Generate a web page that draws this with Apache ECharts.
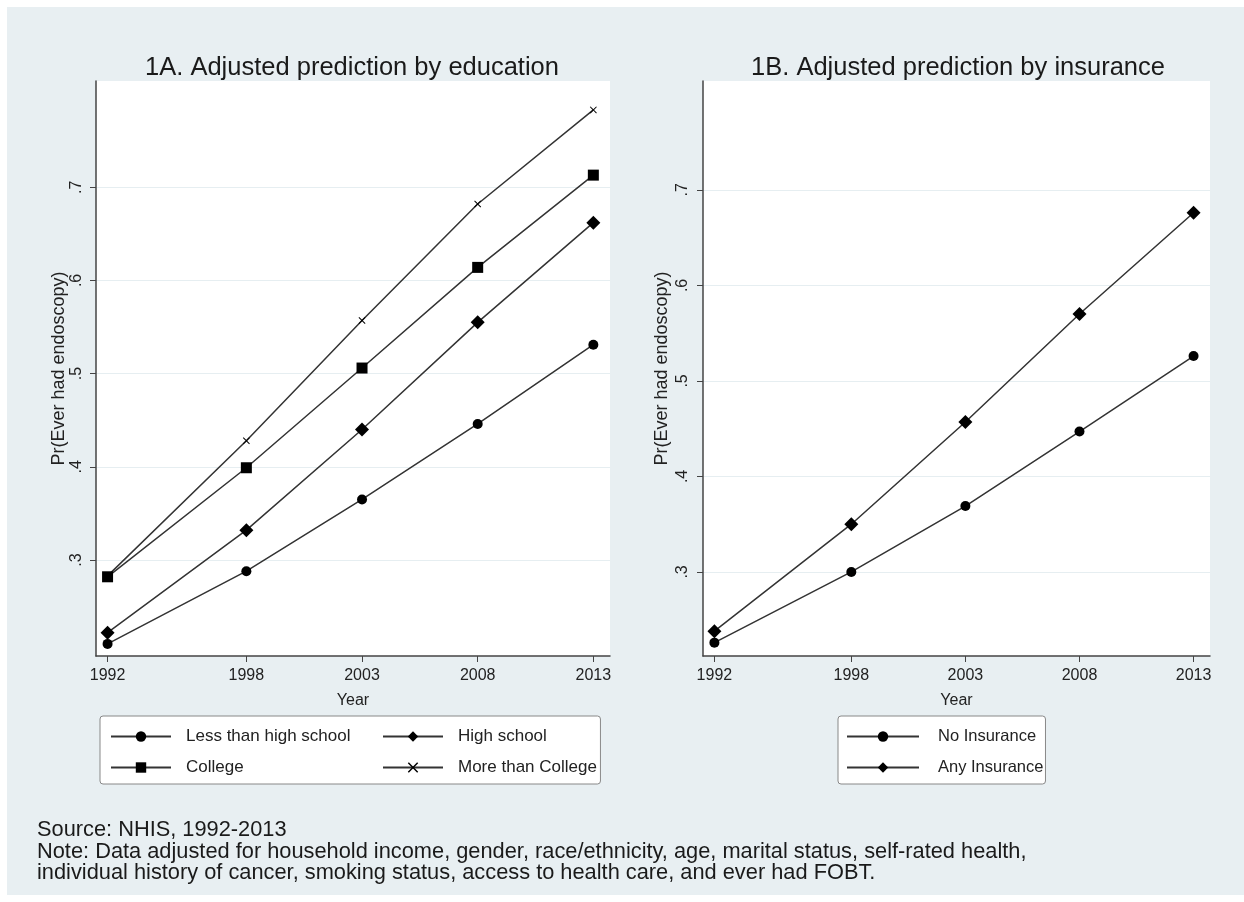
<!DOCTYPE html>
<html>
<head>
<meta charset="utf-8">
<script src="https://cdn.jsdelivr.net/npm/echarts@6/dist/echarts.min.js"></script>
<style>
  body { margin: 0; background: #fff; }
  #main { width: 1244px; height: 902px; }
</style>
</head>
<body>
<div id="main"></div>
<script>
// data
var years = [1992, 1998, 2003, 2008, 2013];
var yTicks = [0.3, 0.4, 0.5, 0.6, 0.7];

var lessThanHS      = [0.210, 0.288, 0.365, 0.446, 0.531];
var highSchool      = [0.222, 0.332, 0.440, 0.555, 0.662];
var college         = [0.282, 0.399, 0.506, 0.614, 0.713];
var moreThanCollege = [0.283, 0.428, 0.557, 0.682, 0.783];

var noInsurance  = [0.226, 0.300, 0.369, 0.447, 0.526];
var anyInsurance = [0.238, 0.350, 0.457, 0.570, 0.676];

var FONT = "'Liberation Sans', Arial, sans-serif";
var INK = '#222';
var crossPath = 'path://M0,1L1,0L5,4L9,0L10,1L6,5L10,9L9,10L5,6L1,10L0,9L4,5Z';

function pairs(vals) {
  return years.map(function (y, i) { return [y, vals[i]]; });
}

function xAxisFor(idx) {
  return {
    type: 'value', gridIndex: idx, min: 1991.5, max: 2013.72,
    name: 'Year', nameLocation: 'middle', nameGap: 37,
    nameTextStyle: { fontFamily: FONT, fontSize: 16, color: INK },
    axisLine: { lineStyle: { color: '#444', width: 1.5 } },
    axisTick: { customValues: years, length: 6, lineStyle: { color: '#444' } },
    axisLabel: {
      customValues: years, margin: 12, fontFamily: FONT, fontSize: 16, color: INK,
      formatter: function (v) { return String(v); }
    },
    splitLine: { show: false }
  };
}

function yAxisFor(idx, min, labelMargin, nameGap) {
  return {
    type: 'value', gridIndex: idx, min: min, max: 0.814,
    name: 'Pr(Ever had endoscopy)', nameLocation: 'middle', nameRotate: 90, nameGap: nameGap,
    nameTextStyle: { fontFamily: FONT, fontSize: 18, color: INK },
    axisLine: { show: true, lineStyle: { color: '#444', width: 1.5 } },
    axisTick: { show: true, customValues: yTicks, length: 6, lineStyle: { color: '#444' } },
    axisLabel: {
      customValues: yTicks, rotate: 90, margin: labelMargin,
      fontFamily: FONT, fontSize: 16, color: INK,
      formatter: function (v) { return v.toFixed(1).replace(/^0/, ''); }
    },
    splitLine: { show: true, lineStyle: { color: '#e6eef1', width: 1 } }
  };
}

function lineSeries(name, vals, symbol, size, idx) {
  return {
    name: name, type: 'line', xAxisIndex: idx, yAxisIndex: idx,
    data: pairs(vals), symbol: symbol, symbolSize: size,
    lineStyle: { color: '#333', width: 1.5 },
    itemStyle: { color: '#000' },
    animation: false
  };
}

var legendBase = {
  orient: 'vertical', top: 716, height: 48,
  itemGap: 14, itemWidth: 60, itemHeight: 13,
  textStyle: { fontFamily: FONT, fontSize: 17, color: INK, padding: [0, 0, 0, 10] }
};

var chart = echarts.init(document.getElementById('main'));
var option = {
  backgroundColor: '#fff',
  animation: false,
  graphic: [{
    type: 'rect', z: -10, silent: true,
    shape: { x: 7, y: 7, width: 1237, height: 888 },
    style: { fill: '#e8eff2' }
  }],
  title: [
    { text: '1A. Adjusted prediction by education', left: 347, top: 50, textAlign: 'center',
      textStyle: { fontFamily: FONT, fontSize: 25.5, fontWeight: 'normal', color: '#1a1a1a' } },
    { text: '1B. Adjusted prediction by insurance', left: 953, top: 50, textAlign: 'center',
      textStyle: { fontFamily: FONT, fontSize: 25.5, fontWeight: 'normal', color: '#1a1a1a' } },
    { text: 'Source: NHIS, 1992-2013\nNote: Data adjusted for household income, gender, race/ethnicity, age, marital status, self-rated health,\nindividual history of cancer, smoking status, access to health care, and ever had FOBT.',
      left: 32, top: 814.5,
      textStyle: { fontFamily: FONT, fontSize: 21.8, fontWeight: 'normal', color: '#1a1a1a', lineHeight: 21.5 } }
  ],
  grid: [
    { left: 96, top: 81, width: 514, height: 575, show: true, backgroundColor: '#fff', borderWidth: 0 },
    { left: 703, top: 81, width: 507, height: 575, show: true, backgroundColor: '#fff', borderWidth: 0 }
  ],
  xAxis: [xAxisFor(0), xAxisFor(1)],
  yAxis: [yAxisFor(0, 0.197, 11, 22), yAxisFor(1, 0.212, 12, 32)],
  legend: [
    // 1A, first column: carries the frame of the whole legend box
    Object.assign({}, legendBase, {
      left: 100, padding: [12, 250, 8, 10],
      backgroundColor: '#fff', borderColor: '#888', borderWidth: 1, borderRadius: 3,
      data: ['Less than high school', 'College']
    }),
    // 1A, second column
    Object.assign({}, legendBase, {
      left: 382, padding: [12, 0, 8, 0], z: 6,
      data: ['High school', 'More than College']
    }),
    // 1B
    Object.assign({}, legendBase, {
      left: 838, padding: [12, 2, 8, 8], itemWidth: 72,
      backgroundColor: '#fff', borderColor: '#888', borderWidth: 1, borderRadius: 3,
      textStyle: { fontFamily: FONT, fontSize: 16.5, color: INK, padding: [0, 0, 0, 14] },
      data: ['No Insurance', 'Any Insurance']
    })
  ],
  series: [
    lineSeries('Less than high school', lessThanHS, 'circle', 10, 0),
    lineSeries('High school', highSchool, 'diamond', 14, 0),
    lineSeries('College', college, 'rect', 11, 0),
    lineSeries('More than College', moreThanCollege, crossPath, 7, 0),
    lineSeries('No Insurance', noInsurance, 'circle', 10, 1),
    lineSeries('Any Insurance', anyInsurance, 'diamond', 14, 1)
  ]
};
chart.setOption(option);
</script>
</body>
</html>
